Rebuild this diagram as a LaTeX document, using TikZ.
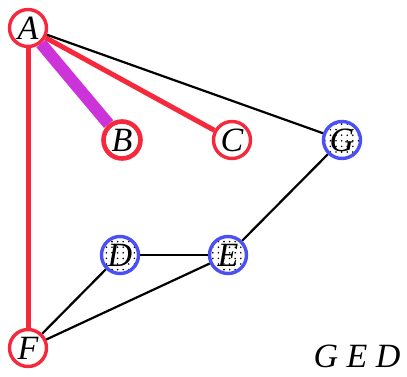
\documentclass[tikz,border=0pt]{standalone}
\usepackage{fontspec}
\setmainfont{Liberation Serif}
\usetikzlibrary{patterns.meta}
\definecolor{hitred}{HTML}{F5283C}
\definecolor{seqblue}{HTML}{4B50F5}
\definecolor{pathviolet}{HTML}{CC33D9}

\begin{document}
\begin{tikzpicture}[
  x=0.5pt, y=-0.5pt,
  every node/.style={font=\fontsize{17}{20}\selectfont\itshape},
  vtx/.style ={circle, draw=hitred, line width=1.7pt, fill=white,
               minimum size=18.5pt, inner sep=0pt},
  hot/.style ={vtx, line width=2.3pt},
  seq/.style ={vtx, draw=seqblue,
               pattern={Dots[radius=0.45pt, distance=2.8pt]}, pattern color=black},
  redge/.style={draw=hitred, line width=2.5pt},
  bedge/.style={draw=black, line width=1.1pt},
  pedge/.style={draw=pathviolet, line width=6pt}
]
\useasboundingbox (0,0) rectangle (407,376);

%% vertices
\node[vtx] (A) at ( 28, 28) {A};
\node[hot] (B) at (122,140) {B};
\node[vtx] (C) at (232,140) {C};
\node[seq] (G) at (342,140) {G};
\node[seq] (D) at (120,255) {D};
\node[seq] (E) at (228,255) {E};
\node[vtx] (F) at ( 28,348) {F};

\node (ord) at (357,356) {G E D};

%% edges
\draw[pedge] (A)--(B);
\foreach \a/\b in {A/C, A/F}
  \draw[redge] (\a)--(\b);
\foreach \a/\b in {A/G, G/E, D/E, D/F, E/F}
  \draw[bedge] (\a)--(\b);

\end{tikzpicture}
\end{document}
